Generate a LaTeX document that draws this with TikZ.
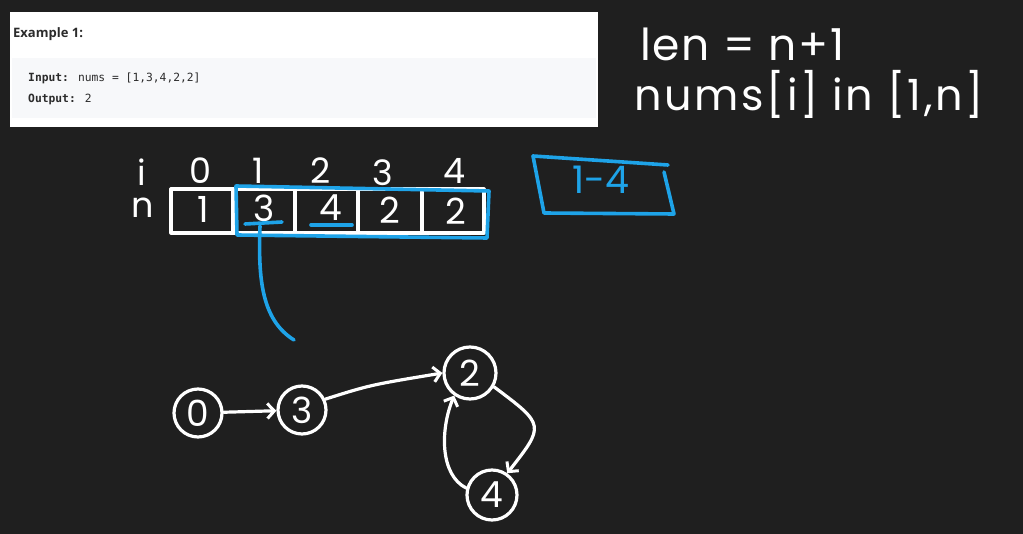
\documentclass[tikz,border=0pt]{standalone}
\usepackage{fontspec}
\setmainfont{Liberation Sans}
\newfontfamily\hand{Poppins}
\newfontfamily\codefont{DejaVu Sans Mono}
\newfontfamily\headfont{Open Sans}
\usetikzlibrary{arrows.meta}
\definecolor{bg}{HTML}{1F1F1F}
\definecolor{pen}{HTML}{1EA3E8}
\definecolor{codebg}{HTML}{F7F8FA}
\definecolor{txt}{HTML}{2B2B2B}
\tikzset{
  ink/.style={draw=white,line width=3.2pt,line cap=round,line join=round},
  blueink/.style={draw=pen,line width=3.6pt,line cap=round,line join=round},
  hw/.style={text=white,font=\hand\fontsize{35}{35}\selectfont,inner sep=0pt},
  hwbig/.style={text=white,font=\hand\fontsize{44}{44}\selectfont,inner sep=0pt,anchor=west},
  cell/.style={text=white,font=\hand\fontsize{36}{36}\selectfont,inner sep=0pt},
  gnode/.style={circle,ink,minimum size=48pt,inner sep=0pt,text=white,font=\hand\fontsize{36}{36}\selectfont},
  arr/.style={ink,-{Straight Barb[length=7pt,width=15pt,line width=3pt]}},
}
\begin{document}
\begin{tikzpicture}[x=1pt,y=-1pt]
\fill[bg] (0,0) rectangle (1023,534);
\useasboundingbox (0,0) rectangle (1023,534);
% example panel
\fill[white] (10,12) rectangle (598,127);
\fill[codebg] (12,58) rectangle (596,118);
\node[anchor=west,inner sep=0pt,text=txt,font=\headfont\bfseries\fontsize{13}{13}\selectfont] (ex) at (13,34) {Example 1:};
\node[anchor=west,inner sep=0pt,text=txt,font=\codefont\fontsize{11.3}{11.3}\selectfont] (inp) at (28,78) {\textbf{Input:} nums = [1,3,4,2,2]};
\node[anchor=west,inner sep=0pt,text=txt,font=\codefont\fontsize{11.3}{11.3}\selectfont] (outp) at (28,99) {\textbf{Output:} 2};
% handwritten notes
\node[hwbig,font=\hand\fontsize{44}{44}\selectfont\addfontfeature{LetterSpace=4}] (len) at (640,44) {len = n+1};
\node[hwbig,font=\hand\fontsize{43}{43}\selectfont\addfontfeature{LetterSpace=6}] (rng) at (634,94) {nums[i] in [1,n]};
% array
\draw[ink] (171,189) rectangle (484,233);
\draw[ink] (233,189) -- (233,233);
\draw[ink] (295,189) -- (295,233);
\draw[ink] (358,189) -- (358,233);
\draw[ink] (422,189) -- (422,233);
\node[hw] (li) at (142,172) {i};
\node[hw] (ln) at (143,208) {n};
\node[hw] (i0) at (200,171) {0};
\node[hw] (i1) at (258,171) {1};
\node[hw] (i2) at (321,171) {2};
\node[hw] (i3) at (383,173) {3};
\node[hw] (i4) at (455,171) {4};
\node[cell] (c0) at (203,209) {1};
\node[cell] (c1) at (264,208) {3};
\node[cell] (c2) at (331,208) {4};
\node[cell] (c3) at (390,210) {2};
\node[cell] (c4) at (456,211) {2};
% blue highlights
\draw[blueink] (236,186) -- (489,191) -- (487,238) -- (237,235) -- cycle;
\draw[blueink] (245,224) -- (282,222);
\draw[blueink] (311,225) -- (352,225);
\coordinate (tail) at (294,340);
\draw[blueink] (260,226) .. controls (258,280) and (262,320) .. (tail);
\draw[blueink] (533,156) -- (668,165);
\draw[blueink] (533,156) -- (544,213) -- (674,214) -- (664,172);
\node[text=pen,font=\hand\fontsize{38}{38}\selectfont,inner sep=0pt] (rg) at (601,180) {1-4};
% graph
\node[gnode] (n0) at (198,413) {0};
\node[gnode] (n3) at (302,410) {3};
\node[gnode,minimum size=52pt] (n2) at (470,373) {2};
\node[gnode,minimum size=50pt] (n4) at (492,495) {4};
\draw[arr] (n0) -- (n3);
\draw[arr] (n3.25) .. controls (370,385) .. (n2.west);
\draw[arr] (n2.-30) .. controls (545,425) .. (n4.55);
\draw[arr] (n4.165) .. controls (440,475) and (440,430) .. (n2.-125);
\end{tikzpicture}
\end{document}
